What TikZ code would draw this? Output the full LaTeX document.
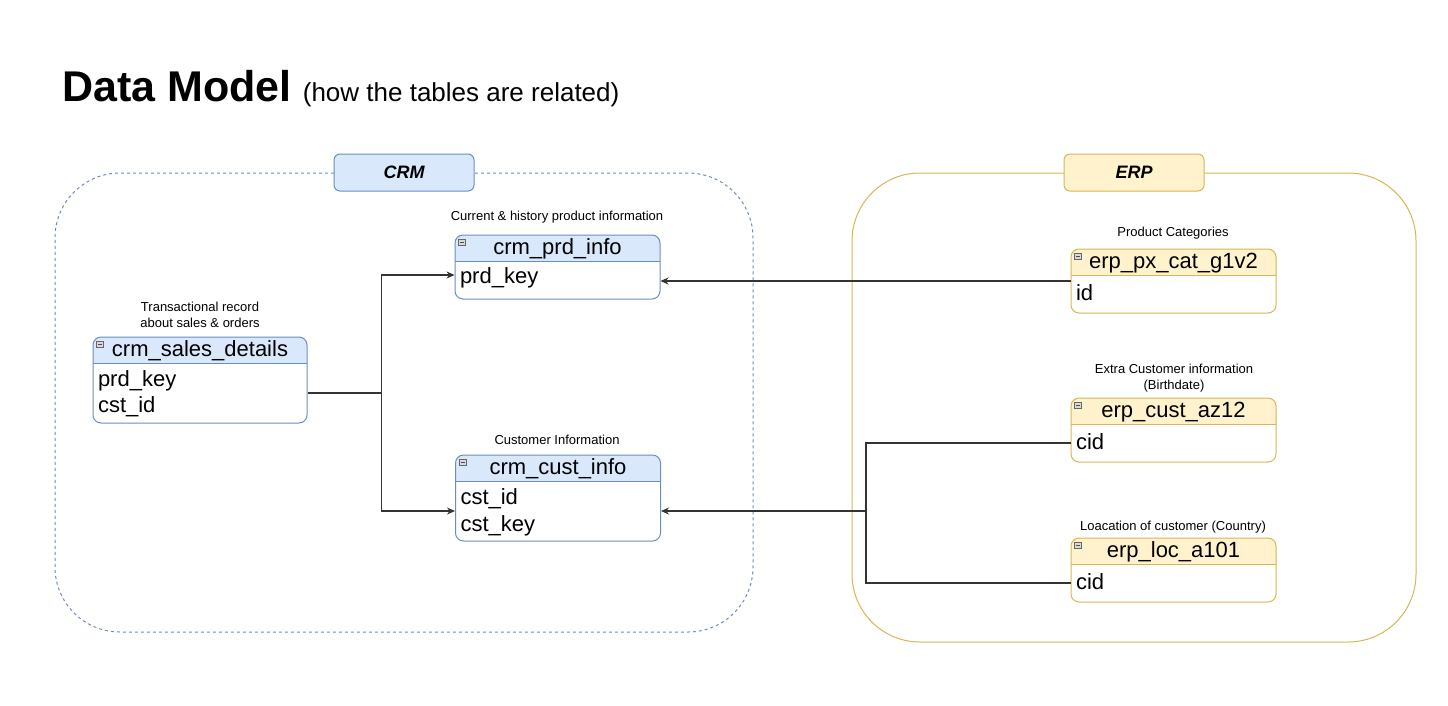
\documentclass[tikz,border=0pt]{standalone}
\usepackage{fontspec}
\setmainfont{Liberation Sans}
\usetikzlibrary{arrows.meta,calc}
\definecolor{bstroke}{HTML}{6C8EBF}
\definecolor{bfill}{HTML}{DAE8FC}
\definecolor{ystroke}{HTML}{D6B656}
\definecolor{yfill}{HTML}{FFF2CC}
\definecolor{conncol}{HTML}{333333}
\begin{document}
\begin{tikzpicture}[x=1pt,y=-1pt,line width=1pt,
  tbl/.style 2 args={draw=#1, fill=white, rounded corners=8pt, minimum width=205pt, inner sep=0pt,
    path picture={
      \fill[#2, sharp corners] (path picture bounding box.north west) rectangle ([yshift=-26pt]path picture bounding box.north east);
      \draw[#1, line width=1pt, sharp corners] ([yshift=-26pt]path picture bounding box.north west) -- ([yshift=-26pt]path picture bounding box.north east);
      \filldraw[fill=gray!30, draw=gray!80!black, line width=0.6pt, sharp corners] ([xshift=3.5pt,yshift=-4pt]path picture bounding box.north west) rectangle ++(7pt,-6pt);
      \draw[black!70, line width=0.8pt, sharp corners] ([xshift=5pt,yshift=-7pt]path picture bounding box.north west) -- ++(4pt,0pt);
    }},
  crmtbl/.style={tbl={bstroke}{bfill}},
  erptbl/.style={tbl={ystroke}{yfill}},
  hdr/.style={font=\fontsize{22}{26}\selectfont, inner sep=0pt, anchor=base},
  fld/.style={font=\fontsize{22}{26}\selectfont, inner sep=0pt, anchor=base west},
  note/.style={font=\fontsize{13}{16}\selectfont, align=center, inner sep=0pt},
  lbl/.style={rounded corners=6pt, minimum width=140pt, minimum height=37pt, inner sep=0pt, font=\fontsize{18}{22}\selectfont\bfseries\itshape},
  conn/.style={draw=conncol, line width=1.2pt},
  tip/.style={-{Stealth[length=8pt,width=7pt]}}
]
\useasboundingbox (0,0) rectangle (1448,705);

% title
\node[anchor=base west, inner sep=0pt, font=\fontsize{43}{50}\selectfont\bfseries] (title) at (62,101) {Data Model};
\node[anchor=base west, inner sep=0pt, font=\fontsize{26}{30}\selectfont] (subtitle) at ([xshift=10pt]title.base east) {(how the tables are related)};

% containers
\node[draw=bstroke, dash pattern=on 3pt off 3pt, rounded corners=65pt, minimum width=698pt, minimum height=459pt, inner sep=0pt] (crm) at (404,402.5) {};
\node[draw=ystroke, rounded corners=68pt, minimum width=564pt, minimum height=469pt, inner sep=0pt] (erp) at (1134,407.5) {};
\node[lbl, fill=bfill, draw=bstroke] (crmlbl) at (404,172.5) {CRM};
\node[lbl, fill=yfill, draw=ystroke] (erplbl) at (1134,172.5) {ERP};

% CRM tables
\node[crmtbl, minimum width=214pt, minimum height=86pt] (sales) at (200,380) {};
\node[hdr] (salesh) at ([yshift=-19.5pt]sales.north) {crm\_sales\_details};
\node[fld] (salesf1) at ([xshift=5pt,yshift=-50pt]sales.north west) {prd\_key};
\node[fld] (salesf2) at ([xshift=5pt,yshift=-75.5pt]sales.north west) {cst\_id};

\node[crmtbl, minimum height=64pt] (prd) at (557.5,267) {};
\node[hdr] (prdh) at ([yshift=-19.5pt]prd.north) {crm\_prd\_info};
\node[fld] (prdf1) at ([xshift=5pt,yshift=-48.5pt]prd.north west) {prd\_key};

\node[crmtbl, minimum height=86pt] (cust) at (558,498) {};
\node[hdr] (custh) at ([yshift=-19.5pt]cust.north) {crm\_cust\_info};
\node[fld] (custf1) at ([xshift=5pt,yshift=-50pt]cust.north west) {cst\_id};
\node[fld] (custf2) at ([xshift=5pt,yshift=-76.5pt]cust.north west) {cst\_key};

% ERP tables
\node[erptbl, minimum height=64pt] (pxcat) at (1173.5,281) {};
\node[hdr] (pxcath) at ([yshift=-19.5pt]pxcat.north) {erp\_px\_cat\_g1v2};
\node[fld] (pxcatf1) at ([xshift=5pt,yshift=-52pt]pxcat.north west) {id};

\node[erptbl, minimum height=64pt] (az) at (1173.5,430) {};
\node[hdr] (azh) at ([yshift=-19.5pt]az.north) {erp\_cust\_az12};
\node[fld] (azf1) at ([xshift=5pt,yshift=-52pt]az.north west) {cid};

\node[erptbl, minimum height=64pt] (loc) at (1173.5,570) {};
\node[hdr] (loch) at ([yshift=-19.5pt]loc.north) {erp\_loc\_a101};
\node[fld] (locf1) at ([xshift=5pt,yshift=-52pt]loc.north west) {cid};

% notes
\node[note, anchor=base] (n1) at (557,220) {Current \& history product information};
\node[note, anchor=north] (n2) at (200,301.5) {Transactional record\\about sales \& orders};
\node[note, anchor=base] (n3) at (557,444) {Customer Information};
\node[note, anchor=base] (n4) at (1173,236) {Product Categories};
\node[note, anchor=north] (n5) at (1174,363.3) {Extra Customer information\\(Birthdate)};
\node[note, anchor=base] (n6) at (1173,530) {Loacation of customer (Country)};

% connectors
\coordinate (j1) at ($(sales.east)+(74,13)$);
\coordinate (j2) at ($(cust.east)+(205,13)$);
\draw[conn] ([yshift=-13pt]sales.east) -- (j1);
\draw[conn, tip] (j1) |- ([yshift=-8pt]prd.west);
\draw[conn, tip] (j1) |- ([yshift=-13pt]cust.west);
\draw[conn, tip] (pxcat.west) -- (pxcat.west -| prd.east);
\draw[conn] ([yshift=-13pt]az.west) -| (j2) |- ([yshift=-13pt]loc.west);
\draw[conn, tip] (j2) -- (j2 -| cust.east);
\end{tikzpicture}
\end{document}
